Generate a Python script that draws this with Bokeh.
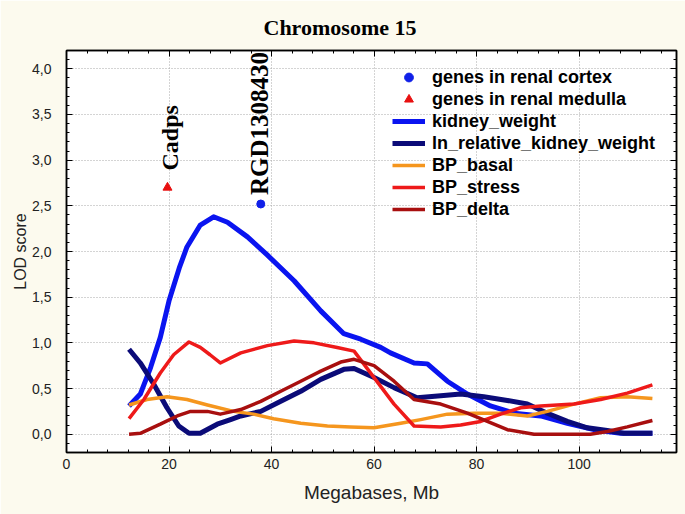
import math
from bokeh.plotting import figure
from bokeh.models import (Range1d, LinearAxis, FixedTicker, Grid, Legend, LegendItem, Title,
                          CustomLabelingPolicy)
from bokeh.core.properties import value
from bokeh.embed import file_html
from bokeh.resources import INLINE

# ---------------- data ----------------
kidney_mb = [12.2, 14.4, 16.4, 18.3, 20.0, 22.0, 23.5, 26.1, 28.7, 31.4, 35.3, 39.2, 44.4, 49.6,
             54.1, 57.4, 61.3, 63.2, 67.8, 70.4, 74.3, 78.2, 82.7, 87.3, 92.5, 97.7, 102.9, 108.1, 114.3]
kidney_lod = [0.31, 0.44, 0.73, 1.06, 1.46, 1.82, 2.05, 2.29, 2.38, 2.32, 2.16, 1.96, 1.68, 1.35,
              1.10, 1.04, 0.95, 0.89, 0.78, 0.77, 0.58, 0.44, 0.31, 0.23, 0.20, 0.12, 0.05, 0.01, 0.01]

lnrel_mb = [12.2, 14.4, 17.0, 19.6, 21.9, 23.9, 26.1, 29.4, 32.0, 34.0, 37.9, 41.8, 45.7, 49.6, 54.1,
            56.1, 60.0, 63.9, 68.4, 73.0, 76.9, 81.4, 86.0, 89.9, 93.8, 97.7, 101.6, 105.5, 108.7, 114.3]
lnrel_lod = [0.93, 0.78, 0.55, 0.29, 0.09, 0.01, 0.01, 0.11, 0.16, 0.20, 0.25, 0.36, 0.47, 0.60, 0.71,
             0.72, 0.62, 0.51, 0.40, 0.42, 0.44, 0.41, 0.37, 0.33, 0.23, 0.14, 0.07, 0.04, 0.01, 0.01]

basal_mb = [12.2, 15.7, 19.6, 23.5, 27.5, 32.6, 36.5, 40.4, 45.7, 50.9, 55.4, 60.0, 65.2, 69.1, 74.3,
            79.5, 84.7, 89.9, 93.8, 99.0, 104.2, 109.4, 114.3]
basal_lod = [0.32, 0.38, 0.41, 0.38, 0.32, 0.25, 0.22, 0.17, 0.12, 0.09, 0.08, 0.07, 0.12, 0.16, 0.22,
             0.23, 0.23, 0.20, 0.25, 0.33, 0.40, 0.41, 0.39]

stress_mb = [12.2, 15.1, 18.3, 20.9, 23.9, 26.1, 28.0, 30.0, 34.0, 39.2, 44.4, 48.3, 52.8, 56.1, 60.0,
             63.9, 67.8, 73.0, 76.9, 80.8, 84.7, 88.6, 92.5, 99.0, 104.2, 109.4, 114.3]
stress_lod = [0.17, 0.38, 0.67, 0.87, 1.01, 0.95, 0.87, 0.78, 0.89, 0.97, 1.02, 1.00, 0.95, 0.91, 0.62,
              0.33, 0.09, 0.08, 0.10, 0.14, 0.22, 0.29, 0.31, 0.33, 0.38, 0.45, 0.54]

delta_mb = [12.2, 14.4, 18.3, 21.6, 24.2, 27.5, 30.0, 34.0, 37.9, 41.8, 45.7, 49.6, 53.5, 56.1, 60.0,
            63.9, 67.8, 73.0, 78.2, 82.1, 86.0, 91.2, 96.4, 102.2, 105.5, 109.4, 114.3]
delta_lod = [0.00, 0.01, 0.11, 0.20, 0.25, 0.25, 0.22, 0.27, 0.36, 0.47, 0.58, 0.69, 0.79, 0.82, 0.75,
             0.58, 0.38, 0.33, 0.23, 0.14, 0.05, 0.00, 0.00, 0.00, 0.03, 0.08, 0.15]

cortex_genes = ["RGD1308430"]
cortex_mb = [37.9]
cortex_lod = [2.52]

medulla_genes = ["Cadps"]
medulla_mb = [19.7]
medulla_lod = [2.70]

x_ticks = [0, 20, 40, 60, 80, 100]
x_tick_labels = ["0", "20", "40", "60", "80", "100"]
y_ticks = [0.0, 0.5, 1.0, 1.5, 2.0, 2.5, 3.0, 3.5, 4.0]
y_tick_labels = ["0,0", "0,5", "1,0", "1,5", "2,0", "2,5", "3,0", "3,5", "4,0"]

# ---------------- figure ----------------
BG = "#FCFAEE"
p = figure(width=685, height=514, output_backend="svg", toolbar_location=None,
           x_range=Range1d(0, 119), y_range=Range1d(-0.2, 4.2),
           x_axis_type=None, y_axis_type=None,
           min_border_left=66, min_border_top=50, min_border_right=9, min_border_bottom=62,
           background_fill_color="white", border_fill_color=BG,
           outline_line_color="black", outline_line_width=1.5)

p.title = Title(text="Chromosome 15", align="left", offset=197, vertical_align="top", standoff=18,
                text_font="Liberation Serif", text_font_style="bold",
                text_font_size="22px", text_color="black")

x_minor = [v * 4 for v in range(0, 30)]
y_minor = [round(-0.2 + 0.1 * i, 2) for i in range(0, 45)]

xt = FixedTicker(ticks=x_ticks, minor_ticks=x_minor)
yt = FixedTicker(ticks=y_ticks, minor_ticks=y_minor)

no_labels = CustomLabelingPolicy(code="""
    for (const i of Array.from(indices)) { indices.unset(i) }
    return indices
""")

def style_axis(ax, show_labels):
    ax.axis_line_color = "black"
    ax.axis_line_width = 1.5
    ax.major_tick_in = 6
    ax.major_tick_out = 0
    ax.minor_tick_in = 3
    ax.minor_tick_out = 0
    ax.major_tick_line_color = "black"
    ax.minor_tick_line_color = "black"
    ax.major_label_text_font = "Liberation Sans"
    ax.major_label_text_font_size = "14px" if show_labels else "0px"
    ax.major_label_text_color = "#222222"
    ax.axis_label_text_font = "Liberation Sans"
    ax.axis_label_text_font_style = "normal"
    ax.axis_label_text_color = "#222222"
    if not show_labels:
        ax.major_label_policy = no_labels
        ax.major_label_standoff = 0

xb = LinearAxis(ticker=xt, axis_label="Megabases, Mb")
style_axis(xb, True)
xb.major_label_overrides = {t: l for t, l in zip(x_ticks, x_tick_labels)}
xb.major_label_standoff = 6
xb.axis_label_standoff = 10
xb.axis_label_text_font_size = "19px"
p.add_layout(xb, "below")

yl = LinearAxis(ticker=yt, axis_label="LOD score")
style_axis(yl, True)
yl.major_label_overrides = {t: l for t, l in zip(y_ticks, y_tick_labels)}
yl.major_label_standoff = 15
yl.axis_label_standoff = 0
yl.axis_label_text_font_size = "16px"
p.add_layout(yl, "left")

xa = LinearAxis(ticker=xt)
style_axis(xa, False)
p.add_layout(xa, "above")

yr = LinearAxis(ticker=yt)
style_axis(yr, False)
p.add_layout(yr, "right")

for dim, tk in ((0, xt), (1, yt)):
    g = Grid(dimension=dim, ticker=tk, grid_line_color="#A8A8A8",
             grid_line_dash="1 2", grid_line_width=1)
    p.add_layout(g)

# ---------------- series ----------------
r_k = p.line(kidney_mb, kidney_lod, line_color="#0A14F0", line_width=5, line_join="round")
r_l = p.line(lnrel_mb, lnrel_lod, line_color="#0B0B78", line_width=5, line_join="round")
r_b = p.line(basal_mb, basal_lod, line_color="#F5961E", line_width=3.5, line_join="round")
r_s = p.line(stress_mb, stress_lod, line_color="#EE1A1A", line_width=3.5, line_join="round")
r_d = p.line(delta_mb, delta_lod, line_color="#A80F0F", line_width=3.5, line_join="round")

r_c = p.scatter(cortex_mb, cortex_lod, marker="circle", size=8, fill_color="#1020E8", line_color="#1020E8")
r_m = p.scatter(medulla_mb, medulla_lod, marker="triangle", size=9, fill_color="#E81010", line_color="#E81010")

p.text(x=cortex_mb, y=cortex_lod, text=cortex_genes, angle=math.pi / 2,
       text_align="left", text_baseline="middle", x_offset=-1, y_offset=-9,
       text_font=value("Liberation Serif"), text_font_style="bold",
       text_font_size="25px", text_color="black")
p.text(x=medulla_mb, y=medulla_lod, text=medulla_genes, angle=math.pi / 2,
       text_align="left", text_baseline="middle", x_offset=3, y_offset=-17,
       text_font=value("Liberation Serif"), text_font_style="bold",
       text_font_size="24px", text_color="black")

legend = Legend(items=[
    LegendItem(label="genes in renal cortex", renderers=[r_c]),
    LegendItem(label="genes in renal medulla", renderers=[r_m]),
    LegendItem(label="kidney_weight", renderers=[r_k]),
    LegendItem(label="ln_relative_kidney_weight", renderers=[r_l]),
    LegendItem(label="BP_basal", renderers=[r_b]),
    LegendItem(label="BP_stress", renderers=[r_s]),
    LegendItem(label="BP_delta", renderers=[r_d]),
], location=(326, 232))
legend.background_fill_alpha = 0
legend.border_line_alpha = 0
legend.padding = 0
legend.margin = 0
legend.spacing = 0
legend.glyph_width = 33
legend.glyph_height = 22
legend.label_height = 22
legend.label_standoff = 7
legend.label_text_font = "Liberation Sans"
legend.label_text_font_style = "bold"
legend.label_text_font_size = "18px"
legend.label_text_color = "black"
p.add_layout(legend)

open("out.html", "w").write(file_html(p, INLINE))
